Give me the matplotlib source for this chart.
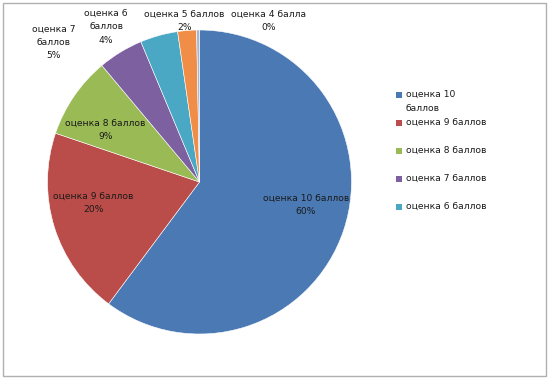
import matplotlib.pyplot as plt
from matplotlib.patches import Rectangle

labels = ['оценка 10 баллов', 'оценка 9 баллов', 'оценка 8 баллов', 'оценка 7 баллов',
          'оценка 6 баллов', 'оценка 5 баллов', 'оценка 4 балла']
shares = [60.2, 20.0, 8.7, 4.8, 4.0, 2.0, 0.3]
pct_text = ['60%', '20%', '9%', '5%', '4%', '2%', '0%']
colors = ['#4A79B3', '#BA4D49', '#99BA55', '#7C60A0', '#4AA8C4', '#F08E47', '#A3B6D6']

# label text as it wraps in the picture
label_text = ['оценка 10 баллов', 'оценка 9 баллов', 'оценка 8 баллов', 'оценка 7\nбаллов',
              'оценка 6\nбаллов', 'оценка 5 баллов', 'оценка 4 балла']
label_pos = [(0.70, -0.15), (-0.70, -0.14), (-0.62, 0.34), (-0.96, 0.92),
             (-0.615, 1.02), (-0.10, 1.06), (0.454, 1.06)]
legend_text = ['оценка 10\nбаллов', 'оценка 9 баллов', 'оценка 8 баллов',
               'оценка 7 баллов', 'оценка 6 баллов']

W, H = 549, 379
fig = plt.figure(figsize=(W / 100, H / 100), dpi=100)
fig.patch.set_facecolor('white')

cx, cy, r = 199.5, 182, 152
ax = fig.add_axes([(cx - r) / W, (H - cy - r) / H, 2 * r / W, 2 * r / H])
wedges, _ = ax.pie(shares, colors=colors, startangle=90, counterclock=False,
                   wedgeprops=dict(edgecolor='white', linewidth=0.4))
ax.set_xlim(-1, 1)
ax.set_ylim(-1, 1)
ax.set_aspect('equal')
ax.axis('off')

for txt, pct, (x, y) in zip(label_text, pct_text, label_pos):
    ax.text(x, y, txt + '\n' + pct, ha='center', va='center', fontsize=6.6,
            color='#1a1a1a', linespacing=1.6, clip_on=False)

# legend (only first five entries fit, as in the original)
leg_y = [95, 123, 151, 179, 207]
for txt, col, y in zip(legend_text, colors, leg_y):
    fig.patches.append(Rectangle((396 / W, 1 - (y + 3) / H), 6 / W, 6 / H,
                                 transform=fig.transFigure, facecolor=col,
                                 edgecolor='none'))
    fig.text(406 / W, 1 - (y - 5) / H, txt, ha='left', va='top', fontsize=6.6,
             color='#1a1a1a', linespacing=1.65)

# chart border
fig.patches.append(Rectangle((2.5 / W, 1 - 375.5 / H), 543 / W, 373 / H,
                             transform=fig.transFigure, facecolor='none',
                             edgecolor='#B0B0B0', linewidth=1.0))

fig.savefig('out.png', dpi=100)
